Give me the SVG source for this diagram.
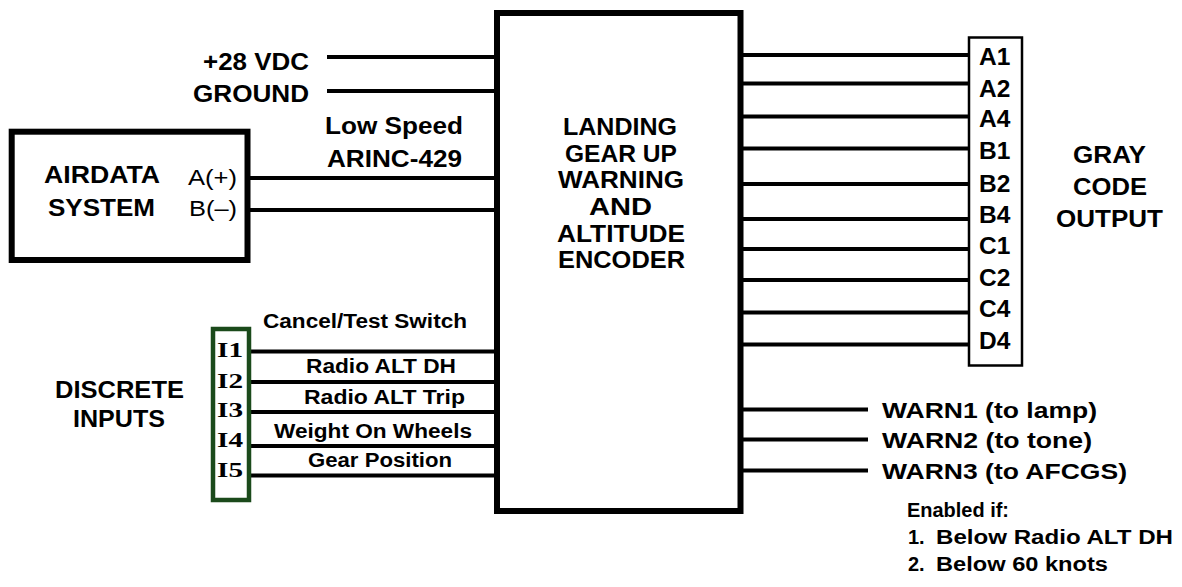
<svg xmlns="http://www.w3.org/2000/svg" width="1182" height="587" viewBox="0 0 1182 587">
<style>
text{font-family:"Liberation Sans",Arial,sans-serif;font-weight:bold;fill:#000}
.big{font-size:24.5px}
.mid{font-size:22px}
.sm{font-size:20px}
.reg{font-weight:normal;font-size:22px}
.ser{font-family:"Liberation Serif","Times New Roman",serif;font-size:22px}
.box{fill:#fff;stroke:#000;stroke-width:6}
.wire{stroke:#000;stroke-width:4;fill:none}
</style>
<rect width="1182" height="587" fill="#fff"/>
<g id="connectors">
<path class="wire" d="M327 57H497M327 91H497M250 178H497M250 210H497M249 351.5H497M249 382H497M249 412H497M249 446H497M249 475.5H497M740 55H969M740 83.5H969M740 116.5H969M740 148.5H969M740 184H969M740 219H969M740 249H969M740 280H969M740 312.5H969M740 344.5H969M740 409.5H868M740 439.5H868M740 470.5H868"/>
</g>
<g id="power-labels">
<text class="big" x="203" y="70" textLength="106" lengthAdjust="spacingAndGlyphs">+28 VDC</text>
<text class="big" x="193" y="102" textLength="116" lengthAdjust="spacingAndGlyphs">GROUND</text>
<text class="big" x="325" y="134" textLength="138" lengthAdjust="spacingAndGlyphs">Low Speed</text>
<text class="big" x="327" y="167" textLength="135" lengthAdjust="spacingAndGlyphs">ARINC-429</text>
</g>
<g id="airdata">
<rect class="box" x="11.7" y="131.7" width="235.8" height="128.3"/>
<text class="big" x="44" y="183" textLength="116" lengthAdjust="spacingAndGlyphs">AIRDATA</text>
<text class="big" x="48" y="216" textLength="107" lengthAdjust="spacingAndGlyphs">SYSTEM</text>
<text class="reg" x="188" y="185" textLength="49" lengthAdjust="spacingAndGlyphs">A(+)</text>
<text class="reg" x="189" y="216" textLength="48" lengthAdjust="spacingAndGlyphs">B(–)</text>
</g>
<g id="encoder">
<rect class="box" x="497" y="13" width="243.5" height="498"/>
<text class="big" x="563" y="135" textLength="114" lengthAdjust="spacingAndGlyphs">LANDING</text>
<text class="big" x="565" y="161.7" textLength="112" lengthAdjust="spacingAndGlyphs">GEAR UP</text>
<text class="big" x="558" y="188.3" textLength="126" lengthAdjust="spacingAndGlyphs">WARNING</text>
<text class="big" x="589" y="215" textLength="63" lengthAdjust="spacingAndGlyphs">AND</text>
<text class="big" x="557" y="241.7" textLength="128" lengthAdjust="spacingAndGlyphs">ALTITUDE</text>
<text class="big" x="558" y="268.3" textLength="127" lengthAdjust="spacingAndGlyphs">ENCODER</text>
</g>
<g id="discrete">
<rect x="213" y="329" width="36" height="171" fill="#fff" stroke="#1b4a1b" stroke-width="4.5"/>
<text class="ser" x="217" y="357" textLength="26" lengthAdjust="spacingAndGlyphs">I1</text>
<text class="ser" x="217" y="388" textLength="26" lengthAdjust="spacingAndGlyphs">I2</text>
<text class="ser" x="217" y="417" textLength="26" lengthAdjust="spacingAndGlyphs">I3</text>
<text class="ser" x="217" y="447" textLength="26" lengthAdjust="spacingAndGlyphs">I4</text>
<text class="ser" x="217" y="477" textLength="26" lengthAdjust="spacingAndGlyphs">I5</text>
<text class="big" x="55" y="398" textLength="129" lengthAdjust="spacingAndGlyphs">DISCRETE</text>
<text class="big" x="73" y="427" textLength="92" lengthAdjust="spacingAndGlyphs">INPUTS</text>
<text class="sm" x="263" y="328" textLength="204" lengthAdjust="spacingAndGlyphs">Cancel/Test Switch</text>
<text class="sm" x="306" y="373" textLength="150" lengthAdjust="spacingAndGlyphs">Radio ALT DH</text>
<text class="sm" x="304" y="404" textLength="161" lengthAdjust="spacingAndGlyphs">Radio ALT Trip</text>
<text class="sm" x="274" y="438" textLength="198" lengthAdjust="spacingAndGlyphs">Weight On Wheels</text>
<text class="sm" x="308" y="467" textLength="144" lengthAdjust="spacingAndGlyphs">Gear Position</text>
</g>
<g id="gray-code">
<rect x="969" y="37.5" width="53" height="328" fill="#fff" stroke="#000" stroke-width="2.5"/>
<text class="big" x="979" y="65">A1</text>
<text class="big" x="979" y="97">A2</text>
<text class="big" x="979" y="127">A4</text>
<text class="big" x="979" y="159">B1</text>
<text class="big" x="979" y="192">B2</text>
<text class="big" x="979" y="223">B4</text>
<text class="big" x="979" y="254">C1</text>
<text class="big" x="979" y="286">C2</text>
<text class="big" x="979" y="317">C4</text>
<text class="big" x="979" y="349">D4</text>
<text class="big" x="1073" y="163" textLength="73" lengthAdjust="spacingAndGlyphs">GRAY</text>
<text class="big" x="1073" y="195" textLength="74" lengthAdjust="spacingAndGlyphs">CODE</text>
<text class="big" x="1056" y="227" textLength="107" lengthAdjust="spacingAndGlyphs">OUTPUT</text>
</g>
<g id="warnings">
<text class="mid" x="882" y="418" textLength="215" lengthAdjust="spacingAndGlyphs">WARN1 (to lamp)</text>
<text class="mid" x="882" y="448" textLength="210" lengthAdjust="spacingAndGlyphs">WARN2 (to tone)</text>
<text class="mid" x="882" y="479" textLength="245" lengthAdjust="spacingAndGlyphs">WARN3 (to AFCGS)</text>
<text class="sm" x="907" y="517" textLength="102" lengthAdjust="spacingAndGlyphs">Enabled if:</text>
<text class="sm" x="908" y="544">1.</text>
<text class="sm" x="936" y="544" textLength="237" lengthAdjust="spacingAndGlyphs">Below Radio ALT DH</text>
<text class="sm" x="908" y="571">2.</text>
<text class="sm" x="936" y="571" textLength="172" lengthAdjust="spacingAndGlyphs">Below 60 knots</text>
</g>
</svg>
